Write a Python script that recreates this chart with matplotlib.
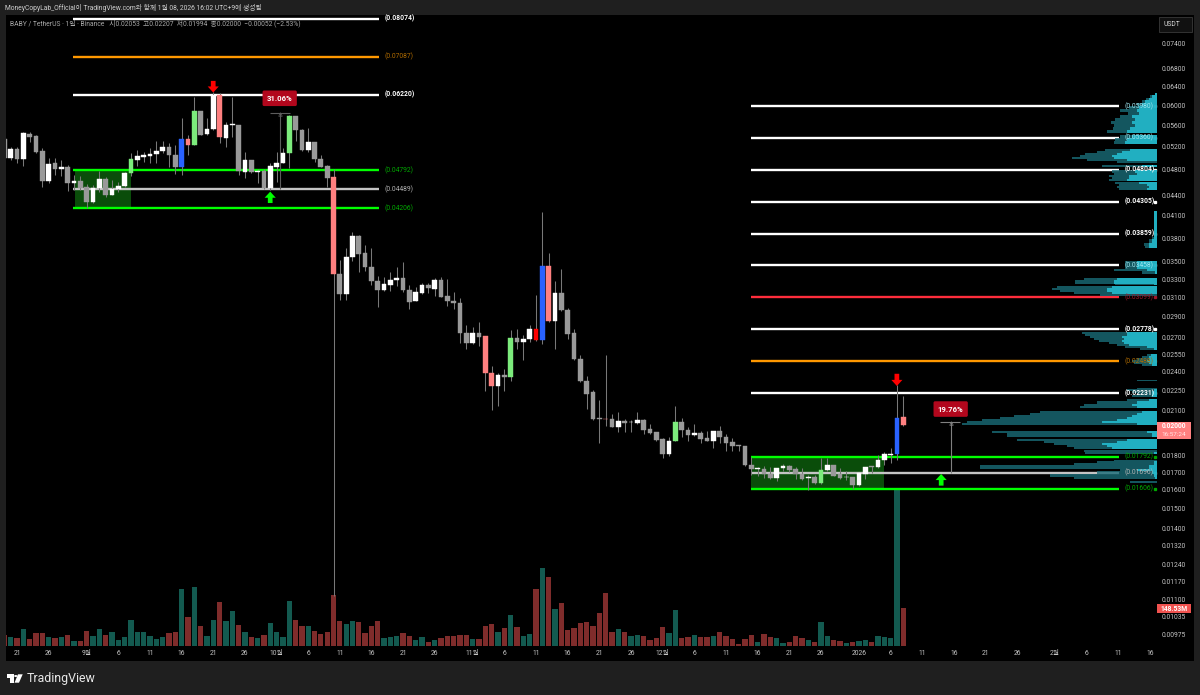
import matplotlib.pyplot as plt
from matplotlib.patches import Rectangle, Polygon, Circle

plt.rcParams['font.family'] = ['Roboto', 'Noto Sans CJK KR', 'DejaVu Sans']

# day number 0 is Aug 21 2025, candles run from Aug 19 to Jan 8
first_day = -2
opens = [
    .05339, .04997, .05153, .04980, .05438, .05389, .05118, .04627, .04912, .04822, .04845,
    .04585, .04622, .04528, .04305, .04508, .04649, .04410, .04497, .04543, .04751,
    .04973, .05020, .05037, .05066, .05118, .05200, .05054, .04845, .05345, .05236,
    .05872, .05426, .05520, .06210, .05363, .05596, .05602, .04762, .04968, .04775,
    .04778, .04508, .04849, .04917, .05083, .05772, .05507, .05141, .05279, .04990,
    .04866, .04681, .03362, .03139, .03560, .03827, .03606, .03444, .03279, .03176,
    .03234, .03290, .03316, .03179, .03064, .03150, .03234, .03193, .03290, .03112,
    .03060, .03036, .02745, .02647, .02745, .02711, .02393, .02289, .02375, .02361,
    .02698, .02656, .02683, .02781, .02680, .03455, .02858, .03150, .02971, .02743,
    .02506, .02328, .02237, .02045, .02041, .02039, .01987, .02025, .02018, .02015,
    .02036, .01971, .01951, .01904, .01812, .01894, .02018, .01966, .01932, .01944,
    .01910, .01892, .01961, .01922, .01888, .01864, .01860, .01743, .01719, .01719,
    .01688, .01664, .01727, .01737, .01719, .01688, .01664, .01673, .01637, .01713,
    .01743, .01688, .01673, .01671, .01628, .01690, .01737, .01731, .01771, .01806,
    .01810, .02053,
]
highs = [
    .05375, .05200, .05194, .05470, .05475, .05414, .05171, .04997, .05002, .04968, .04883,
    .04724, .04703, .04575, .04560, .04784, .04681, .04638, .04602, .04773, .05083,
    .05141, .05106, .05171, .05303, .05303, .05262, .05232, .05733, .05414, .06173,
    .05878, .05733, .06274, .06260, .05666, .06160, .05602, .05101, .04968, .04812,
    .04812, .04912, .05101, .05171, .05798, .05778, .05526, .05539, .05290, .05054,
    .04883, .04812, .03524, .03668, .03875, .03840, .03706, .03676, .03336, .03321,
    .03378, .03436, .03503, .03234, .03208, .03253, .03253, .03316, .03328, .03301,
    .03157, .03089, .02819, .02800, .02852, .02714, .02449, .02393, .02426, .02771,
    .02777, .02724, .02819, .03125, .04159, .03605, .03279, .03413, .02985, .02783,
    .02541, .02366, .02255, .02179, .02543, .02075, .02093, .02039, .02034, .02089,
    .02041, .02004, .01955, .01914, .01917, .02134, .02046, .01984, .02006, .01961,
    .01959, .01961, .01994, .01937, .01910, .01866, .01860, .01793, .01733, .01737,
    .01733, .01727, .01749, .01743, .01733, .01723, .01684, .01684, .01783, .01783,
    .01743, .01723, .01707, .01671, .01697, .01733, .01737, .01804, .01824, .01847,
    .02294, .02207,
]
lows = [
    .04968, .04968, .04917, .04866, .05290, .05089, .04524, .04595, .04719, .04703, .04471,
    .04482, .04482, .04213, .04287, .04456, .04369, .04400, .04456, .04532, .04703,
    .04866, .04930, .04924, .04924, .05095, .04855, .04730, .04719, .05054, .05232,
    .05414, .05414, .05507, .05262, .05200, .05380, .04719, .04676, .04746, .04585,
    .04492, .04482, .04611, .04912, .04838, .05303, .05123, .05111, .04939, .04845,
    .04524, .01111, .03071, .03071, .03512, .03378, .03397, .03234, .02996, .03171,
    .03171, .03226, .03161, .02978, .03060, .03132, .03150, .03112, .03099, .03010,
    .02978, .02652, .02596, .02643, .02623, .02250, .02105, .02137, .02250, .02328,
    .02599, .02500, .02661, .02668, .02638, .02851, .02596, .02961, .02686, .02500,
    .02318, .02110, .02034, .01877, .01992, .01983, .01955, .01951, .01951, .02004,
    .01939, .01939, .01894, .01787, .01798, .01892, .01922, .01892, .01926, .01881,
    .01892, .01850, .01881, .01831, .01831, .01829, .01737, .01684, .01680, .01666,
    .01660, .01652, .01709, .01703, .01660, .01656, .01600, .01633, .01632, .01709,
    .01678, .01662, .01656, .01604, .01624, .01660, .01694, .01727, .01743, .01757,
    .01773, .01994,
]
closes = [
    .05002, .05153, .04980, .05445, .05376, .05111, .04627, .04905, .04822, .04849, .04585,
    .04622, .04513, .04297, .04513, .04654, .04410, .04503, .04550, .04746, .04980,
    .05030, .05054, .05071, .05123, .05194, .05054, .04845, .05345, .05236, .05872,
    .05419, .05526, .06210, .05370, .05602, .05616, .04784, .04968, .04762, .04784,
    .04508, .04861, .04917, .05083, .05772, .05507, .05141, .05279, .04985, .04855,
    .04670, .03362, .03139, .03565, .03827, .03601, .03440, .03275, .03176, .03241,
    .03290, .03316, .03176, .03053, .03157, .03234, .03198, .03290, .03105, .03064,
    .03039, .02743, .02647, .02745, .02708, .02393, .02289, .02372, .02361, .02698,
    .02659, .02683, .02783, .02677, .03455, .02858, .03150, .02965, .02733, .02506,
    .02324, .02226, .02041, .02041, .02039, .01987, .02025, .02013, .02020, .02036,
    .01966, .01946, .01899, .01812, .01894, .02018, .01964, .01932, .01944, .01908,
    .01894, .01961, .01919, .01881, .01860, .01861, .01741, .01717, .01723, .01690,
    .01664, .01725, .01737, .01713, .01688, .01662, .01671, .01637, .01715, .01743,
    .01680, .01666, .01675, .01628, .01694, .01733, .01733, .01773, .01810, .01812,
    .02046, .02000,
]
# volume in millions
volumes = [
    43, 35, 30, 65, 27, 51, 51, 35, 31, 34, 43, 21, 18, 60, 40, 65, 43, 56, 25, 34, 103,
    56, 56, 40, 27, 34, 50, 56, 223, 112, 229, 78, 40, 103, 172, 96, 136, 83, 56, 34, 30,
    44, 90, 56, 35, 176, 102, 77, 77, 57, 47, 55, 201, 98, 87, 99, 93, 50, 78, 99, 30, 34,
    39, 50, 40, 23, 34, 17, 25, 30, 38, 38, 44, 43, 29, 29, 78, 86, 56, 69, 121, 74, 39,
    48, 223, 304, 270, 146, 168, 63, 72, 89, 94, 78, 129, 207, 53, 66, 56, 40, 43, 40, 25,
    30, 74, 51, 141, 30, 35, 44, 35, 35, 38, 56, 39, 27, 8, 27, 43, 14, 47, 35, 31, 12, 17,
    40, 30, 25, 16, 94, 40, 23, 21, 13, 16, 18, 25, 16, 40, 34, 31, 614, 148.53,
]
green_days = [18, 28, 43, 78, 104, 127]
pink_days = [27, 32, 50, 74, 75, 84, 93, 140]
blue_days = [26, 83, 139]
red_days = [82]

left_levels = [0.08074, 0.07087, 0.06220, 0.04792, 0.04489, 0.04206]
left_level_kinds = ['white', 'orange', 'white', 'green', 'gray', 'green']
right_levels = [0.05980, 0.05360, 0.04804, 0.04305, 0.03859, 0.03458, 0.03099,
                0.02778, 0.02488, 0.02231, 0.01792, 0.01696, 0.01606]
right_level_kinds = ['white', 'white', 'white', 'white', 'white', 'white', 'red',
                     'white', 'orange', 'white', 'green', 'gray', 'green']
# these labels sit inside the profile and read tinted
tinted_levels = [0.05980, 0.05360, 0.03458]

price_ticks = [0.074, 0.068, 0.064, 0.06, 0.056, 0.052, 0.048, 0.044, 0.041, 0.038,
               0.035, 0.033, 0.031, 0.029, 0.027, 0.0255, 0.024, 0.0225, 0.021, 0.018,
               0.017, 0.016, 0.015, 0.014, 0.0132, 0.0124, 0.0117, 0.011, 0.01035, 0.00975]
date_ticks = [0, 5, 11, 16, 21, 26, 31, 36, 41, 46, 51, 56, 61, 66, 72, 77, 82, 87, 92, 97,
              102, 107, 112, 117, 122, 127, 133, 138, 143, 148, 153, 158, 164, 169, 174, 179]
date_labels = ['21', '26', '9월', '6', '11', '16', '21', '26', '10월', '6', '11', '16', '21',
               '26', '11월', '6', '11', '16', '21', '26', '12월', '6', '11', '16', '21', '26',
               '2026', '6', '11', '16', '21', '26', '2월', '6', '11', '16']

# visible range profile, price rows with total and up part
profile_price = [
    .06252, .06188, .06125, .06062, .06000, .05939, .05878, .05818, .05759, .05699, .05641,
    .05584, .05526, .05470, .05436, .05375, .05321, .05266, .05220, .05180, .05141, .05106,
    .05071, .05037, .05002, .04968, .04934, .04900, .04866, .04833, .04767, .04735, .04703,
    .04670, .04638, .04607, .04591, .04560, .04528, .04497, .04474, .04170, .04155, .03974,
    .03868, .03827, .03801, .03762, .03711, .03686, .03667, .03520, .03507, .03460, .03425,
    .03405, .03382, .03337, .03313, .03301, .03279, .03256, .03234, .03223, .03212, .03190,
    .03168, .03147, .03125, .03109, .02761, .02743, .02724, .02705, .02686, .02668, .02650,
    .02632, .02614, .02596, .02582, .02552, .02543, .02526, .02508, .02491, .02474, .02457,
    .02445, .02334, .02326, .02318, .02278, .02270, .02255, .02240, .02226, .02210, .02194,
    .02179, .02157, .02142, .02127, .02109, .02091, .02077, .02063, .02048, .02034, .02021,
    .02007, .01987, .01966, .01953, .01932, .01912, .01899, .01886, .01873, .01860, .01848,
    .01838, .01829, .01816, .01804, .01779, .01773, .01761, .01743, .01737, .01725, .01713,
    .01696, .01678, .01667, .01656, .01645, .01633,
]
profile_total = [
    2, 7, 11, 15, 20, 28, 37, 29, 37, 42, 46, 43, 44, 50, 0, 37, 42, 43, 0, 0, 52, 60, 72,
    77, 85, 70, 40, 0, 55, 0, 45, 43, 48, 45, 48, 0, 42, 38, 40, 38, 0, 0, 2.7, 2.7, 2.7,
    3, 5, 8, 13, 12, 0, 0, 32, 32, 32, 43, 15, 0, 0, 73, 82, 82, 42, 0, 100, 105, 97, 83,
    57, 0, 0, 75, 72, 67, 63, 58, 48, 40, 32, 17, 0, 0, 10, 15, 20, 25, 23, 15, 0, 0, 20,
    0, 0, 20, 30, 25, 20, 25, 0, 30, 60, 73, 77, 0, 117, 127, 143, 157, 175, 190, 195, 0,
    0, 165, 150, 0, 140, 113, 103, 90, 83, 0, 73, 72, 0, 0, 43, 60, 83, 177, 177, 37, 60,
    107, 83, 0, 27, 0,
]
profile_up = [
    1.5, 5, 8, 12, 15, 18, 20, 18, 25, 22, 25, 22, 27, 30, 0, 25, 30, 32, 0, 0, 27, 35, 40,
    45, 43, 30, 0, 0, 15, 0, 22, 20, 28, 28, 30, 0, 18, 10, 8, 10, 0, 0, 2.5, 2.5, 2.5,
    2.5, 3, 5, 8, 8, 0, 0, 20, 20, 20, 10, 2, 0, 0, 40, 43, 43, 3, 0, 45, 50, 50, 45, 0, 0,
    0, 30, 30, 35, 33, 35, 33, 28, 10, 3, 0, 0, 6, 8, 8, 10, 8, 5, 0, 0, 0, 0, 0, 0, 3, 5,
    5, 5, 0, 8, 20, 25, 20, 0, 15, 20, 25, 30, 40, 55, 20, 0, 0, 10, 5, 0, 30, 40, 55, 50,
    45, 0, 0, 3, 0, 0, 0, 3, 3, 8, 8, 20, 5, 3, 2, 0, 0, 0,
]

# layout in pixels of the 1200x695 picture
W, H = 1200.0, 695.0
PX_PER_LOG = 291.2


def fx(x):
    return x / W


def fy(y):
    return 1 - y / H


fig = plt.figure(figsize=(12, 6.95), dpi=100, facecolor='#1f1f1f')
fig.add_artist(Rectangle((fx(6), fy(661)), fx(1188), (661 - 15) / H, transform=fig.transFigure,
                         facecolor='black', edgecolor='none', zorder=-1))

rect = [fx(6), fy(646), fx(1151), (646 - 15) / H]
ax_vol = fig.add_axes(rect)
ax = fig.add_axes(rect)
ax_prof = fig.add_axes(rect)
for a in [ax_vol, ax, ax_prof]:
    a.patch.set_visible(False)
    for s in a.spines.values():
        s.set_visible(False)

days = list(range(first_day, first_day + len(opens)))
x_range = ((6 - 17) / 6.33, (1157 - 17) / 6.33)

# volume
vol_colors = ['#135a50' if c >= o else '#7f2c2b' for o, c in zip(opens, closes)]
ax_vol.bar(days, volumes, width=0.84, color=vol_colors, linewidth=0)
ax_vol.set_xlim(x_range)
ax_vol.set_ylim(0, 631 * 3.91)
ax_vol.axis('off')

# green zones
ax.fill_between([9.1, 18], 0.04792, 0.04206, color='#0a4d0a', linewidth=0, zorder=1)
ax.fill_between([116, 137], 0.01792, 0.01606, color='#0a4d0a', linewidth=0, zorder=1)

level_colors = {'white': '#ffffff', 'orange': '#ff9800', 'green': '#00ff00',
                'gray': '#c4c4c4', 'red': '#ff2d3c'}
label_colors = {'white': '#ffffff', 'orange': '#b06c00', 'green': '#00a800',
                'gray': '#b4b4b4', 'red': '#a0182a'}


def draw_levels(levels, kinds, x0, x1, with_dot):
    for price, kind in zip(levels, kinds):
        ax.hlines(price, x0, x1, color=level_colors[kind], linewidth=1.7, zorder=2)
        col = label_colors[kind]
        weight = 'bold' if kind == 'white' else 'normal'
        if price in tinted_levels:
            col = '#9fe6f0'
            weight = 'normal'
        # on the profile axes so the right labels stay above the fill
        ax_prof.text(x1 + 0.85, price, '(%.5f)' % price, color=col, fontsize=4.9,
                     va='center', ha='left', zorder=6, fontweight=weight, transform=ax.transData)
        if with_dot:
            ax.plot([179.85], [price], 's', color=label_colors[kind], markersize=1.4, zorder=6)


# candles
body_colors = []
for day, o, c in zip(days, opens, closes):
    if day in green_days:
        body_colors.append('#7ceb7c')
    elif day in pink_days:
        body_colors.append('#ff8080')
    elif day in blue_days:
        body_colors.append('#2962ff')
    elif day in red_days:
        body_colors.append('#ff0000')
    elif c >= o:
        body_colors.append('#ffffff')
    else:
        body_colors.append('#999999')

ax.vlines(days, lows, highs, color='#787878', linewidth=0.75, zorder=3)
tops = [max(o, c) for o, c in zip(opens, closes)]
bottoms = [min(o, c) for o, c in zip(opens, closes)]
heights = [t - b for t, b in zip(tops, bottoms)]
ax.bar(days, heights, bottom=bottoms, width=0.74, color=body_colors, edgecolor=body_colors,
       linewidth=0.3, zorder=4)

ax.set_yscale('log')
ax.set_ylim(0.06 * 2.71828 ** (-541 / PX_PER_LOG), 0.06 * 2.71828 ** (90 / PX_PER_LOG))
ax.set_xlim(x_range)

ax.yaxis.tick_right()
ax.set_yticks(price_ticks)
ax.set_yticklabels(['%.5f' % p for p in price_ticks])
ax.minorticks_off()
ax.tick_params(axis='y', length=0, pad=3.6, labelsize=4.9, labelcolor='#c4c4c4')
ax.set_xticks(date_ticks)
ax.set_xticklabels(date_labels)
ax.tick_params(axis='x', length=0, pad=3.0, labelsize=4.9, labelcolor='#c4c4c4')

# arrows
for day, price, col, off in [(31, 0.06262, '#ff0000', 8.4), (139, 0.02286, '#ff0000', 8.8),
                             (40, 0.04456, '#00ff00', -8.2), (146, 0.01690, '#00ff00', -8.4)]:
    ax.annotate('', xy=(day, price), xytext=(0, off), textcoords='offset points', zorder=7,
                arrowprops=dict(facecolor=col, edgecolor='none', width=3.4, headwidth=8,
                                headlength=4.4, shrink=0))

# measure tools
for xm, xa, xb, low, high, col, label, ytext in [
        (41.5, 40, 43.2, 0.04489, 0.0584, '#5c5c5c', '31.06%', 0.0614),
        (147.5, 145.8, 149, 0.01696, 0.0202, '#808080', '19.76%', 0.02112)]:
    ax.vlines(xm, low, high, color=col, linewidth=0.8, zorder=3)
    ax.hlines(high, xa, xb, color=col, linewidth=0.8, zorder=3)
    ax.plot([xm], [high * 0.995], '^', color=col, markersize=2.6, markerfacecolor='none',
            markeredgewidth=0.5, zorder=3)
    ax.text(xm, ytext, label, color='white', fontsize=5.6, fontweight='bold', ha='center',
            va='center', zorder=8,
            bbox=dict(boxstyle='round,pad=0.55,rounding_size=0.2', facecolor='#b2071d',
                      edgecolor='none'))

# volume profile on top of the level lines
ax_prof.set_xlim(1151, 0)
ax_prof.set_yscale('log')
ax_prof.fill_betweenx(profile_price, profile_total, 0, step='mid', color='#1a6c78', alpha=0.8,
                      linewidth=0)
ax_prof.fill_betweenx(profile_price, profile_up, 0, step='mid', color='#25c4d8', alpha=0.82,
                      linewidth=0)
ax_prof.set_ylim(ax.get_ylim())
ax_prof.axis('off')

draw_levels(left_levels, left_level_kinds, 8.85, 57.2, False)
draw_levels(right_levels, right_level_kinds, 116, 174.1, True)

# price tags and the usdt box
fig.add_artist(Rectangle((fx(1157.3), fy(439)), fx(33.4), 17.3 / H, transform=fig.transFigure,
                         facecolor='#ff8080', edgecolor='none'))
fig.text(fx(1174), fy(426), '0.02000', color='white', fontsize=4.8, fontweight='bold',
         ha='center', va='center')
fig.text(fx(1174), fy(434.7), '16:57:24', color='#ffe4e4', fontsize=4.6, ha='center', va='center')
fig.add_artist(Rectangle((fx(1157.3), fy(613.3)), fx(33.4), 9 / H, transform=fig.transFigure,
                         facecolor='#f0524f', edgecolor='none'))
fig.text(fx(1174), fy(608.8), '148.53M', color='white', fontsize=4.9, fontweight='bold',
         ha='center', va='center')
fig.add_artist(Rectangle((fx(1159), fy(31.5)), fx(33), 14.5 / H, transform=fig.transFigure,
                         facecolor='#111111', edgecolor='#3a3a3a', linewidth=0.6))
fig.text(fx(1164), fy(24.5), 'USDT', color='#d8d8d8', fontsize=4.9, va='center', ha='left')

# header and legend
fig.text(fx(5), fy(8), 'MoneyCopyLab_Official이 TradingView.com와 함께 1월 08, 2026 16:02 UTC+9에 생성됨',
         color='#cfcfcf', fontsize=4.85, va='center', ha='left')
fig.text(fx(10), fy(23), 'BABY / TetherUS · 1일 · Binance   시0.02053  고0.02207  저0.01994  종0.02000  '
         '−0.00052 (−2.53%)', color='#a8a8a8', fontsize=4.9, va='center', ha='left')

# logo
fig.add_artist(Polygon([(fx(x), fy(y)) for x, y in [(6.7, 674.3), (13.5, 674.3), (13.5, 682.7),
                                                    (10, 682.7), (10, 677.5), (6.7, 677.5)]],
                       transform=fig.transFigure, facecolor='white', edgecolor='none'))
fig.add_artist(Polygon([(fx(x), fy(y)) for x, y in [(18, 674.3), (22.7, 674.3), (19, 682.7), (14.5, 682.7)]],
                       transform=fig.transFigure, facecolor='white', edgecolor='none'))
fig.add_artist(Circle((fx(15.8), fy(676)), 1.7 / W, transform=fig.transFigure, facecolor='white',
                      edgecolor='none'))
fig.text(fx(27), fy(678.5), 'TradingView', color='#e8e8e8', fontsize=8.9, va='center', ha='left')

fig.savefig('out.png', dpi=100, facecolor=fig.get_facecolor())
